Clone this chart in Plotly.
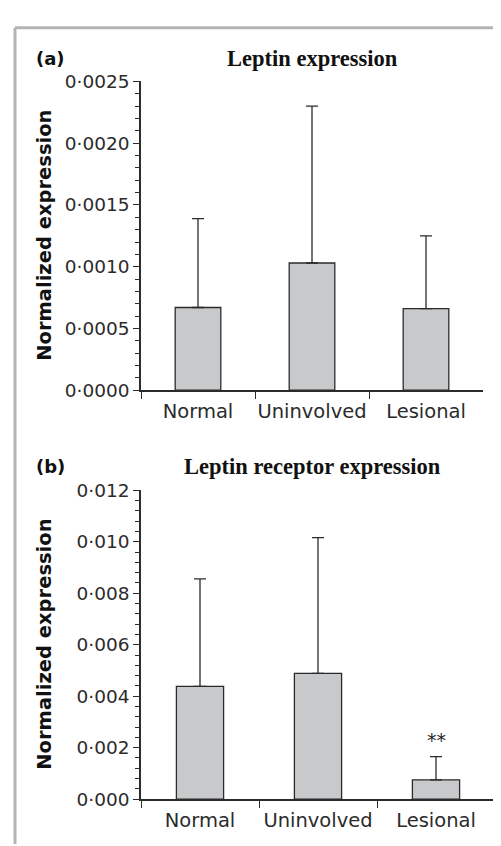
import plotly.graph_objects as go

categories = ["Normal", "Uninvolved", "Lesional"]
leptin_mean = [0.00067, 0.00103, 0.00066]
leptin_err_top = [0.00139, 0.00230, 0.00125]
receptor_mean = [0.00438, 0.00489, 0.00075]
receptor_err_top = [0.00856, 0.01016, 0.00165]
leptin_ticks = [0.0, 0.0005, 0.0010, 0.0015, 0.0020, 0.0025]
receptor_ticks = [0.0, 0.002, 0.004, 0.006, 0.008, 0.010, 0.012]

def fmt(v, nd):
    return f"{v:.{nd}f}".replace(".", "\u00b7")

BAR = "#c8c9cb"
DARK = "#2b2b2b"
SANS = "DejaVu Sans"
SERIF = "Liberation Serif"

fig = go.Figure()
for means, tops, xa, ya in [(leptin_mean, leptin_err_top, "x", "y"),
                            (receptor_mean, receptor_err_top, "x2", "y2")]:
    fig.add_trace(go.Bar(
        x=categories, y=means, width=0.4, xaxis=xa, yaxis=ya,
        marker=dict(color=BAR, line=dict(color=DARK, width=1.3)),
        error_y=dict(type="data", symmetric=False,
                     array=[t - m for t, m in zip(tops, means)],
                     arrayminus=[0, 0, 0], color=DARK, thickness=1.3, width=6),
        showlegend=False, hoverinfo="skip"))

W, H = 501, 846
def px(x): return x / W
def py(y): return 1 - y / H

xcommon = dict(type="category", tickson="boundaries", ticks="outside", ticklen=7,
               tickwidth=1.3, tickcolor=DARK, showline=True, linecolor=DARK,
               linewidth=1.5, showgrid=False, zeroline=False, tickangle=0,
               ticklabelstandoff=3,
               tickfont=dict(family=SANS, size=19.5, color=DARK),
               range=[-0.5, 2.5])
ycommon = dict(ticks="outside", ticklen=6, tickwidth=1.3, tickcolor=DARK,
               showline=True, linecolor=DARK, linewidth=1.5, showgrid=False,
               zeroline=False, tickfont=dict(family=SANS, size=18.5, color=DARK))

fig.update_layout(
    width=W, height=H, margin=dict(l=0, r=0, t=0, b=0),
    paper_bgcolor="white", plot_bgcolor="white", bargap=0.6,
    xaxis=dict(**xcommon, domain=[px(133), px(475)], anchor="y"),
    yaxis=dict(**ycommon, domain=[py(380.7), py(64)], anchor="x",
               range=[0, 0.0025], tickvals=leptin_ticks,
               ticktext=[fmt(v, 4) for v in leptin_ticks],
               minor=dict(dtick=0.0001, ticks="outside", ticklen=4,
                          tickcolor=DARK, tickwidth=1.2, showgrid=False)),
    xaxis2=dict(**xcommon, domain=[px(133), px(487)], anchor="y2"),
    yaxis2=dict(**ycommon, domain=[py(800), py(483.3)], anchor="x2",
                range=[0, 0.012], tickvals=receptor_ticks,
                ticktext=[fmt(v, 3) for v in receptor_ticks],
                minor=dict(dtick=0.0004, ticks="outside", ticklen=4,
                           tickcolor=DARK, tickwidth=1.2, showgrid=False)),
)

for t, y in [("(a)", 40), ("(b)", 459)]:
    fig.add_annotation(text=f"<b>{t}</b>", xref="paper", yref="paper", x=px(26), y=py(y),
                       xanchor="left", yanchor="middle", showarrow=False,
                       font=dict(family=SANS, size=18, color="#111"))
for t, y in [("Leptin expression", 40), ("Leptin receptor expression", 459)]:
    fig.add_annotation(text=f"<b>{t}</b>", xref="paper", yref="paper", x=px(304), y=py(y),
                       showarrow=False, xanchor="center", yanchor="middle",
                       font=dict(family=SERIF, size=22.5, color="#111"))
for y in [(64 + 380.7) / 2, (483.3 + 800) / 2]:
    fig.add_annotation(text="<b>Normalized expression</b>", xref="paper", yref="paper",
                       x=px(37), y=py(y), textangle=-90, showarrow=False,
                       xanchor="center", yanchor="middle",
                       font=dict(family=SANS, size=19.5, color="#111"))
fig.add_annotation(text="**", x=categories[2], y=0.0023, xref="x2", yref="y2",
                   showarrow=False, yanchor="middle",
                   font=dict(family=SANS, size=19, color=DARK))

# figure frame (top and left edges)
fig.add_shape(type="line", xref="paper", yref="paper", x0=px(7), x1=1.0, y0=py(9), y1=py(9),
              line=dict(color="#b3b3b3", width=3))
fig.add_shape(type="line", xref="paper", yref="paper", x0=px(7), x1=px(7), y0=py(9), y1=0,
              line=dict(color="#b3b3b3", width=3))

fig.write_html("out.html")
